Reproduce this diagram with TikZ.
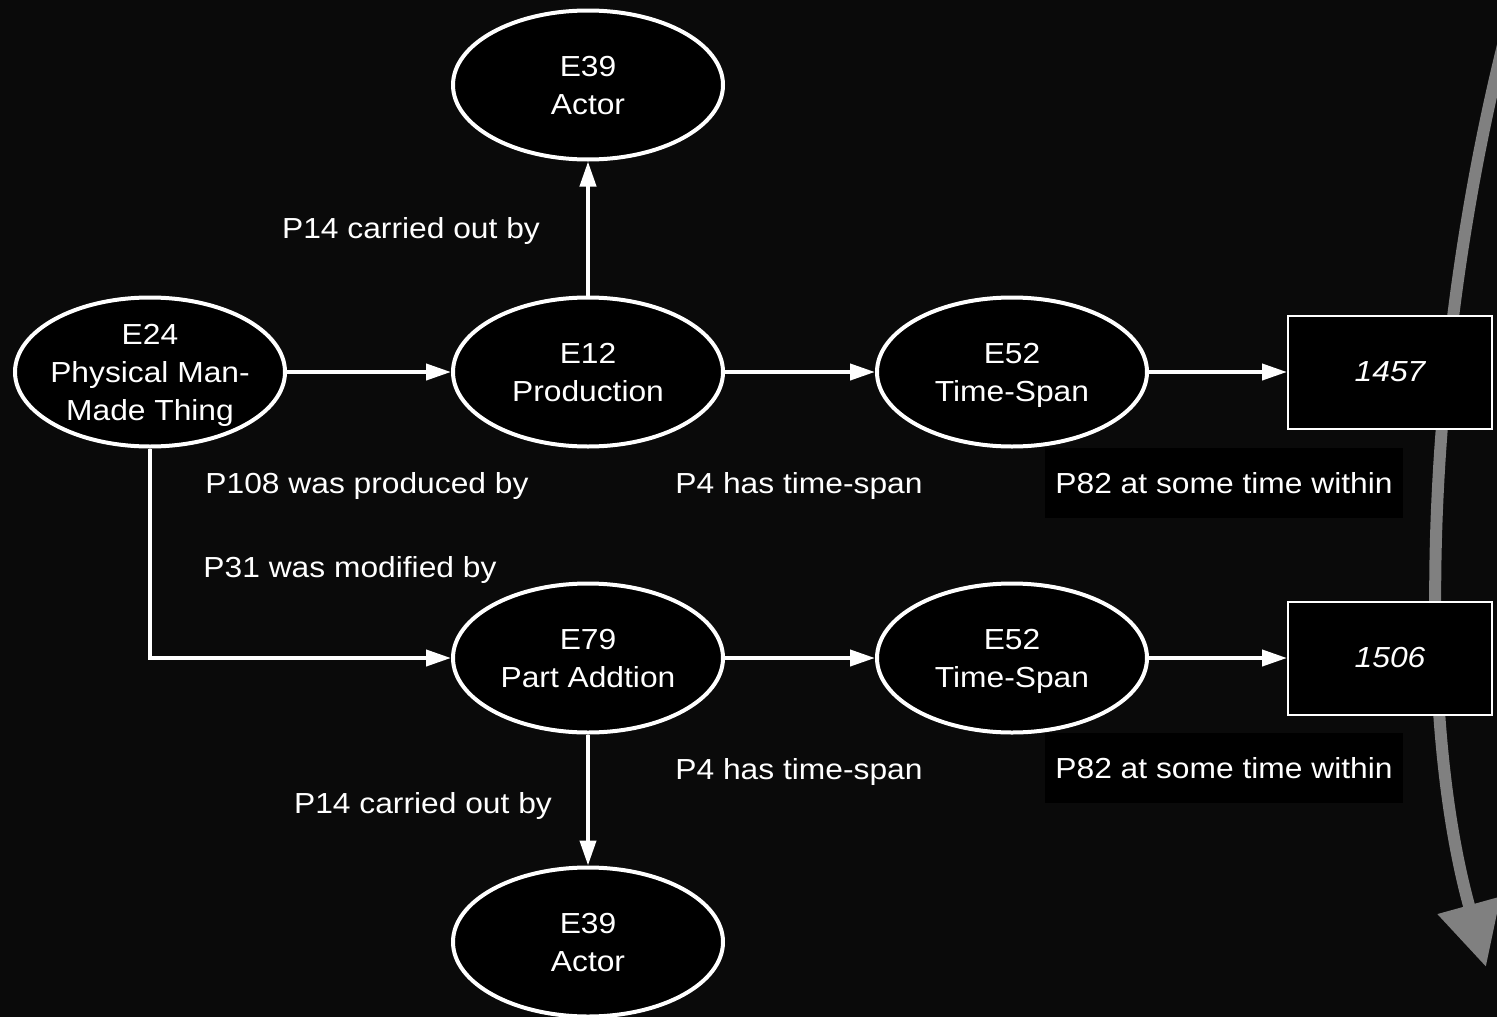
\documentclass[tikz,border=0pt]{standalone}
\usepackage{fontspec}
\setmainfont[FakeStretch=1.095]{Liberation Sans}
\usetikzlibrary{arrows.meta,shapes.geometric}
\definecolor{bg}{RGB}{10,10,10}
\definecolor{flow}{RGB}{128,128,128}

\begin{document}
\begin{tikzpicture}[x=1pt,y=-1pt,
  every node/.style={font=\fontsize{29}{38}\selectfont, text=white, align=center},
  entity/.style={ellipse, draw=white, line width=4pt, fill=black,
    minimum width=270pt, minimum height=149pt, inner sep=0pt, text depth=0pt},
  literal/.style={rectangle, draw=white, line width=2pt, fill=black,
    minimum width=204pt, minimum height=113pt, inner sep=0pt,
    font=\fontsize{29}{38}\selectfont\itshape},
  prop/.style={inner sep=0pt, anchor=base},
  propbox/.style={fill=black, minimum width=358pt, minimum height=70pt, inner sep=0pt},
  link/.style={draw=white, line width=4pt, -{Triangle[length=25pt,width=16pt]}},
  timeflow/.style={draw=flow, line width=12pt, -{Triangle[length=64pt,width=62pt]}},
]
% canvas
\fill[bg] (0,0) rectangle (1497,1017);
\clip (0,0) rectangle (1497,1017);
\useasboundingbox (0,0) rectangle (1497,1017);

% time axis running down the right side
\coordinate (flowstart) at (1512,10);
\coordinate (flowend) at (1486,967);
\draw[timeflow] (flowstart) .. controls (1427,330) and (1412,700) .. (flowend);

% entities
\node[entity] (e39a) at (588,85) {E39\\Actor};
\node[entity] (e12) at (588,372) {E12\\Production};
\node[entity, inner xsep=-10pt] (e24) at (150,372) {E24\\Physical Man-\\Made Thing};
\node[entity] (ts1) at (1012,372) {E52\\Time-Span};
\node[literal] (lit1) at (1390,372) {1457};
\node[entity] (e79) at (588,658) {E79\\Part Addtion};
\node[entity] (ts2) at (1012,658) {E52\\Time-Span};
\node[literal] (lit2) at (1390,658) {1506};
\node[entity] (e39b) at (588,942) {E39\\Actor};

% connectors
\draw[link] (e12) -- (e39a);
\draw[link] (e24) -- (e12);
\draw[link] (e12) -- (ts1);
\draw[link] (ts1) -- (lit1);
\draw[link] (e24.south) |- (e79.west);
\draw[link] (e79) -- (ts2);
\draw[link] (ts2) -- (lit2);
\draw[link] (e79) -- (e39b);

% property labels
\node[prop] (p14a) at (411,238) {P14 carried out by};
\node[prop] (p108) at (367,493) {P108 was produced by};
\node[prop] (p4a) at (799,493) {P4 has time-span};
\node[propbox] (p82a) at (1224,483) {P82 at some time within};
\node[prop] (p31) at (350,577) {P31 was modified by};
\node[prop] (p4b) at (799,779) {P4 has time-span};
\node[propbox] (p82b) at (1224,768) {P82 at some time within};
\node[prop] (p14b) at (423,813) {P14 carried out by};
\end{tikzpicture}
\end{document}
